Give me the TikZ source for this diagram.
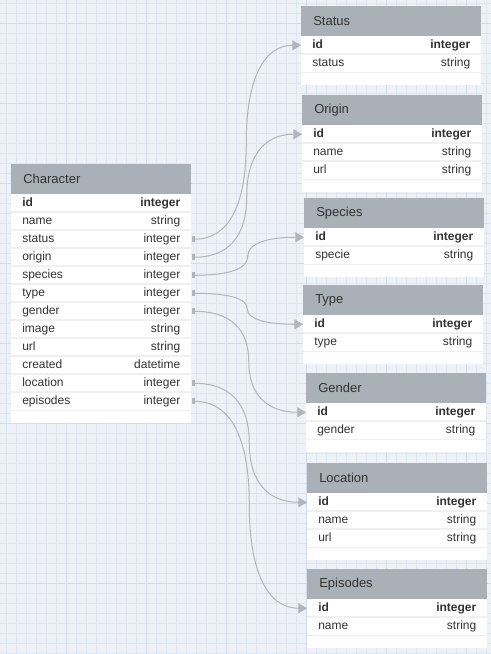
\documentclass[tikz,border=0pt]{standalone}
\usepackage{fontspec}
\setmainfont{Liberation Sans}
\usetikzlibrary{arrows.meta, calc}
\definecolor{canvasbg}{RGB}{238,241,245}
\definecolor{gridminor}{RGB}{221,230,245}
\definecolor{gridmajor}{RGB}{205,219,243}
\definecolor{headgray}{RGB}{169,176,183}
\definecolor{linkgray}{RGB}{178,182,186}
\definecolor{rowsep}{RGB}{240,240,240}
\definecolor{textdark}{RGB}{51,51,51}

\tikzset{
  tablehead/.style={fill=headgray, text=textdark, anchor=north west,
    minimum height=22.5pt, text width=117pt, inner xsep=9pt, inner ysep=0pt,
    align=left, font=\fontsize{9.75}{11}\selectfont},
  tablerow/.style={fill=white, text=textdark, anchor=north west,
    minimum height=13.5pt, text width=118.5pt, inner xsep=8.25pt, inner ysep=0pt,
    text height=7pt, text depth=2pt, font=\fontsize{9}{10}\selectfont},
  rowline/.style={draw=rowsep, line width=1.1pt},
  fklink/.style={draw=linkgray, line width=0.75pt,
    {Rectangle[length=2.25pt,width=4.5pt]}-{Triangle[length=6.5pt,width=7.5pt]},
    to path={let \p1=(\tikztostart), \p2=(\tikztotarget),
        \p3=($(\p1)!.5!(\p2)$) in
      .. controls ({\x1+2/3*(\x3-\x1)},\y1) and (\x3,{\y3+2/3*(\y1-\y3)}) .. (\x3,\y3)
      .. controls (\x3,{\y3+2/3*(\y2-\y3)}) and ({\x2+2/3*(\x3-\x2)},\y2) .. (\tikztotarget)
      \tikztonodes}}
}

% one table: prefix, title, top-left corner, field/type list
\newcommand{\ertable}[4]{%
  \node[tablehead] (#1) at (#3) {#2};
  \foreach \fld/\typ [count=\i] in {#4} {
    \node[tablerow] (#1-\fld) at ($(#3)+(0,{12+18*\i})$)
      {\ifnum\i=1 \bfseries\fi\fld\hfill\typ};
    \fill[white] (#1-\fld.south west) rectangle ++(180,12);
    \ifnum\i>1 \draw[rowline] (#1-\fld.north west) -- (#1-\fld.north east); \fi
    \draw[rowline] (#1-\fld.south west) -- (#1-\fld.south east);
  }
}

\begin{document}
\begin{tikzpicture}[x=0.75pt, y=-0.75pt]
  \useasboundingbox (0,0) rectangle (491,654);
  % background grid
  \fill[canvasbg] (0,0) rectangle (491,654);
  \foreach \gx in {6,16,...,486} \draw[gridminor, line width=0.6pt] (\gx,0) -- (\gx,654);
  \foreach \gy in {3,13,...,653} \draw[gridminor, line width=0.6pt] (0,\gy) -- (491,\gy);
  \foreach \gx in {66,146,...,466} \draw[gridmajor, line width=0.6pt] (\gx,0) -- (\gx,654);
  \foreach \gy in {23,103,...,583} \draw[gridmajor, line width=0.6pt] (0,\gy) -- (491,\gy);

  % tables
  \ertable{char}{Character}{11,164}{id/integer, name/string, status/integer,
    origin/integer, species/integer, type/integer, gender/integer, image/string,
    url/string, created/datetime, location/integer, episodes/integer}
  \ertable{status}{Status}{301,6}{id/integer, status/string}
  \ertable{origin}{Origin}{302,95}{id/integer, name/string, url/string}
  \ertable{species}{Species}{304,198}{id/integer, specie/string}
  \ertable{type}{Type}{303,285}{id/integer, type/string}
  \ertable{gender}{Gender}{306,373}{id/integer, gender/string}
  \ertable{location}{Location}{307,463}{id/integer, name/string, url/string}
  \ertable{episodes}{Episodes}{307,569}{id/integer, name/string}

  % foreign keys
  \draw[fklink] (char-status.east) to (status-id.west);
  \draw[fklink] (char-origin.east) to (origin-id.west);
  \draw[fklink] (char-species.east) to (species-id.west);
  \draw[fklink] (char-type.east) to (type-id.west);
  \draw[fklink] (char-gender.east) to (gender-id.west);
  \draw[fklink] (char-location.east) to (location-id.west);
  \draw[fklink] (char-episodes.east) to (episodes-id.west);
\end{tikzpicture}
\end{document}
